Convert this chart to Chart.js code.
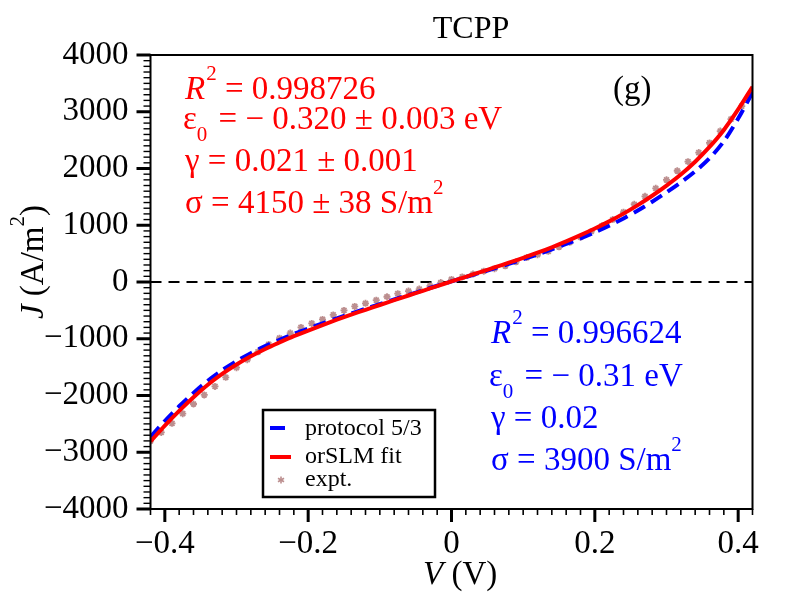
<!DOCTYPE html>
<html>
<head>
<meta charset="utf-8">
<script src="https://cdn.jsdelivr.net/npm/chart.js@4.4.1/dist/chart.umd.min.js"></script>
<style>
  html, body { margin: 0; padding: 0; background: #fff; }
  #wrap { width: 792px; height: 612px; position: relative; }
</style>
</head>
<body>
<div id="wrap"><canvas id="c"></canvas></div>
<script>
// voltage grid of the two model curves (V)
const voltage = [-0.42, -0.40, -0.38, -0.36, -0.34, -0.32, -0.30, -0.28, -0.26, -0.24, -0.22,
    -0.20, -0.18, -0.16, -0.14, -0.12, -0.10, -0.08, -0.06, -0.04, -0.02, 0.00,
    0.02, 0.04, 0.06, 0.08, 0.10, 0.12, 0.14, 0.16, 0.18, 0.20, 0.22,
    0.24, 0.26, 0.28, 0.30, 0.32, 0.34, 0.36, 0.38, 0.40, 0.42];

// orSLM fit (A/m^2)
const fitJ = [-2810, -2530, -2270, -2030, -1810, -1620, -1455, -1310, -1180, -1065, -955,
    -855, -760, -665, -575, -490, -405, -320, -238, -156, -72, 10,
    92, 174, 256, 340, 426, 516, 612, 715, 825, 942, 1068,
    1205, 1355, 1520, 1700, 1895, 2120, 2380, 2680, 3040, 3440];

// protocol 5/3 (A/m^2)
const protocolJ = [-2730, -2450, -2190, -1955, -1740, -1555, -1395, -1255, -1130, -1020, -915,
    -820, -730, -640, -555, -472, -390, -308, -228, -148, -66, 10,
    87, 164, 241, 320, 401, 486, 577, 670, 770, 877, 993,
    1120, 1260, 1415, 1580, 1755, 1950, 2180, 2480, 2880, 3340];

// measured points
const exptV = [-0.420, -0.405, -0.390, -0.375, -0.360, -0.345, -0.330, -0.315, -0.300, -0.285,
    -0.270, -0.255, -0.240, -0.225, -0.210, -0.195, -0.180, -0.165, -0.150, -0.135,
    -0.120, -0.105, -0.090, -0.075, -0.060, -0.045, -0.030, -0.015, 0.000, 0.015,
    0.030, 0.045, 0.060, 0.075, 0.090, 0.105, 0.120, 0.135, 0.150, 0.165,
    0.180, 0.195, 0.210, 0.225, 0.240, 0.255, 0.270, 0.285, 0.300, 0.315,
    0.330, 0.345, 0.360, 0.375, 0.390, 0.405, 0.420];
const exptJ = [-2800, -2650, -2490, -2320, -2150, -1990, -1840, -1680, -1510, -1370,
    -1230, -1100, -990, -900, -800, -730, -660, -580, -500, -430,
    -375, -320, -260, -205, -160, -125, -70, -10, 45, 90,
    140, 190, 235, 285, 355, 430, 480, 540, 620, 700,
    790, 890, 990, 1100, 1230, 1370, 1510, 1650, 1800, 1960,
    2120, 2280, 2450, 2660, 2870, 3100, 3380];

const xTicks = [-0.4, -0.2, 0, 0.2, 0.4];
const yTicks = [-4000, -3000, -2000, -1000, 0, 1000, 2000, 3000, 4000];

const SERIF = '"Liberation Serif", "Times New Roman", serif';
const RED = '#ff0000';
const BLUE = '#0000ff';
const EXPT = '#bc8f8f';

function pts(xs, ys) {
    return xs.map((x, i) => ({ x: x, y: ys[i] }));
}

function minus(s) {
    return String(s).replace('-', '\u2212');
}

// draws a line made of runs with own font / vertical offset
function runs(ctx, x, y, parts) {
    let cx = x;
    parts.forEach(p => {
        ctx.font = p.f;
        ctx.fillText(p.t, cx, y + (p.dy || 0));
        cx += ctx.measureText(p.t).width + (p.gap || 0);
    });
    return cx - x;
}

function runsWidth(ctx, parts) {
    let w = 0;
    parts.forEach(p => {
        ctx.font = p.f;
        w += ctx.measureText(p.t).width + (p.gap || 0);
    });
    return w;
}

const big = '33px ' + SERIF;
const bigIt = 'italic 33px ' + SERIF;
const small = '21px ' + SERIF;

const decor = {
    id: 'decor',
    beforeDatasetsDraw(chart) {
        const ctx = chart.ctx;
        const a = chart.chartArea;
        const ys = chart.scales.y;
        const y0 = ys.getPixelForValue(0);
        ctx.save();
        ctx.strokeStyle = '#000';
        ctx.lineWidth = 2;
        ctx.setLineDash([11, 7]);
        ctx.beginPath();
        ctx.moveTo(a.left, y0);
        ctx.lineTo(a.right, y0);
        ctx.stroke();
        ctx.restore();
    },
    afterDraw(chart) {
        const ctx = chart.ctx;
        const a = chart.chartArea;
        const xs = chart.scales.x;
        const ys = chart.scales.y;
        ctx.save();

        // frame
        ctx.strokeStyle = '#000';
        ctx.lineWidth = 2;
        ctx.strokeRect(a.left, a.top, a.right - a.left, a.bottom - a.top);

        // x ticks, minor every 0.02
        for (let i = -21; i <= 21; i++) {
            const px = xs.getPixelForValue(i * 0.02);
            const major = i % 10 === 0;
            ctx.lineWidth = major ? 3 : 1.6;
            ctx.beginPath();
            ctx.moveTo(px, a.bottom);
            ctx.lineTo(px, a.bottom + (major ? 13 : 6));
            ctx.stroke();
        }
        // y ticks, minor every 100
        for (let i = -40; i <= 40; i++) {
            const py = ys.getPixelForValue(i * 100);
            const major = i % 10 === 0;
            ctx.lineWidth = major ? 3 : 1.4;
            ctx.beginPath();
            ctx.moveTo(a.left, py);
            ctx.lineTo(a.left - (major ? 14 : 7), py);
            ctx.stroke();
        }

        ctx.textAlign = 'left';
        ctx.textBaseline = 'alphabetic';

        // title
        ctx.fillStyle = '#000';
        ctx.font = '32px ' + SERIF;
        ctx.textAlign = 'center';
        ctx.fillText('TCPP', 471, 38);
        ctx.textAlign = 'left';

        // panel tag
        ctx.font = big;
        ctx.fillText('(g)', 613, 99);

        // x axis title
        runs(ctx, 423, 584, [{ t: 'V', f: bigIt }, { t: ' (V)', f: big }]);

        // y axis title
        const yTitle = [{ t: 'J', f: bigIt }, { t: ' (A/m', f: big }, { t: '2', f: small, dy: -19 }, { t: ')', f: big }];
        ctx.save();
        ctx.translate(43, 262);
        ctx.rotate(-Math.PI / 2);
        runs(ctx, -runsWidth(ctx, yTitle) / 2, 0, yTitle);
        ctx.restore();

        // fit results, red
        ctx.fillStyle = RED;
        runs(ctx, 185, 99, [{ t: 'R', f: bigIt, gap: 1 }, { t: '2', f: small, dy: -19 }, { t: ' = 0.998726', f: big }]);
        runs(ctx, 183, 129, [{ t: '\u03b5', f: big, gap: 0 }, { t: '0', f: small, dy: 12, gap: 3 }, { t: ' = \u2212 0.320 \u00b1 0.003 eV', f: big }]);
        runs(ctx, 185, 171, [{ t: '\u03b3 = 0.021 \u00b1 0.001', f: big }]);
        runs(ctx, 185, 213, [{ t: '\u03c3 = 4150 \u00b1 38 S/m', f: big }, { t: '2', f: small, dy: -19 }]);

        // protocol values, blue
        ctx.fillStyle = BLUE;
        runs(ctx, 491, 343, [{ t: 'R', f: bigIt, gap: 1 }, { t: '2', f: small, dy: -19 }, { t: ' = 0.996624', f: big }]);
        runs(ctx, 489, 386, [{ t: '\u03b5', f: big, gap: 0 }, { t: '0', f: small, dy: 12, gap: 3 }, { t: ' = \u2212 0.31 eV', f: big }]);
        runs(ctx, 491, 428, [{ t: '\u03b3 = 0.02', f: big }]);
        runs(ctx, 491, 470, [{ t: '\u03c3 = 3900 S/m', f: big }, { t: '2', f: small, dy: -19 }]);

        // legend box
        ctx.fillStyle = '#fff';
        ctx.fillRect(263, 410, 172, 87);
        ctx.strokeStyle = '#000';
        ctx.lineWidth = 2.5;
        ctx.strokeRect(263, 410, 172, 87);

        ctx.lineWidth = 4;
        ctx.strokeStyle = BLUE;
        ctx.beginPath();
        ctx.moveTo(270, 428);
        ctx.lineTo(285, 428);
        ctx.stroke();
        ctx.strokeStyle = RED;
        ctx.beginPath();
        ctx.moveTo(270, 457);
        ctx.lineTo(291, 457);
        ctx.stroke();
        // small asterisk
        ctx.strokeStyle = EXPT;
        ctx.lineWidth = 1.6;
        for (let k = 0; k < 3; k++) {
            const ang = k * Math.PI / 3;
            ctx.beginPath();
            ctx.moveTo(281 - 3.5 * Math.sin(ang), 480 - 3.5 * Math.cos(ang));
            ctx.lineTo(281 + 3.5 * Math.sin(ang), 480 + 3.5 * Math.cos(ang));
            ctx.stroke();
        }

        ctx.fillStyle = '#000';
        ctx.font = '24px ' + SERIF;
        ctx.fillText('protocol 5/3', 305, 435);
        ctx.fillText('orSLM fit', 305, 463);
        ctx.fillText('expt.', 305, 486);

        ctx.restore();
    }
};

new Chart(document.getElementById('c'), {
    type: 'scatter',
    data: {
        datasets: [
            {
                label: 'orSLM fit',
                data: pts(voltage, fitJ),
                showLine: true,
                borderColor: RED,
                borderWidth: 4,
                pointRadius: 0,
                tension: 0.3
            },
            {
                label: 'protocol 5/3',
                data: pts(voltage, protocolJ),
                showLine: true,
                borderColor: BLUE,
                borderWidth: 4,
                borderDash: [13, 7],
                pointRadius: 0,
                tension: 0.3
            },
            {
                label: 'expt.',
                data: pts(exptV, exptJ),
                pointStyle: 'star',
                pointRadius: 3.5,
                borderWidth: 1.8,
                borderColor: EXPT,
                backgroundColor: EXPT
            }
        ]
    },
    options: {
        responsive: true,
        maintainAspectRatio: false,
        animation: false,
        layout: { padding: { left: 0, right: 39.5, top: 55, bottom: 0 } },
        plugins: {
            legend: { display: false },
            title: { display: false },
            tooltip: { enabled: false }
        },
        scales: {
            x: {
                type: 'linear',
                min: -0.42,
                max: 0.42,
                afterBuildTicks: s => { s.ticks = xTicks.map(v => ({ value: v })); },
                afterFit: s => { s.height = 103; },
                grid: { display: false, drawTicks: false },
                border: { display: false },
                ticks: {
                    padding: 16,
                    color: '#000',
                    font: { family: SERIF, size: 33 },
                    maxRotation: 0,
                    callback: v => minus(Math.round(v * 10) / 10)
                }
            },
            y: {
                type: 'linear',
                min: -4000,
                max: 4000,
                afterBuildTicks: s => { s.ticks = yTicks.map(v => ({ value: v })); },
                afterFit: s => { s.width = 150.5; },
                grid: { display: false, drawTicks: false },
                border: { display: false },
                ticks: {
                    padding: 22,
                    color: '#000',
                    font: { family: SERIF, size: 33 },
                    callback: v => minus(v)
                }
            }
        }
    },
    plugins: [decor]
});
</script>
</body>
</html>
